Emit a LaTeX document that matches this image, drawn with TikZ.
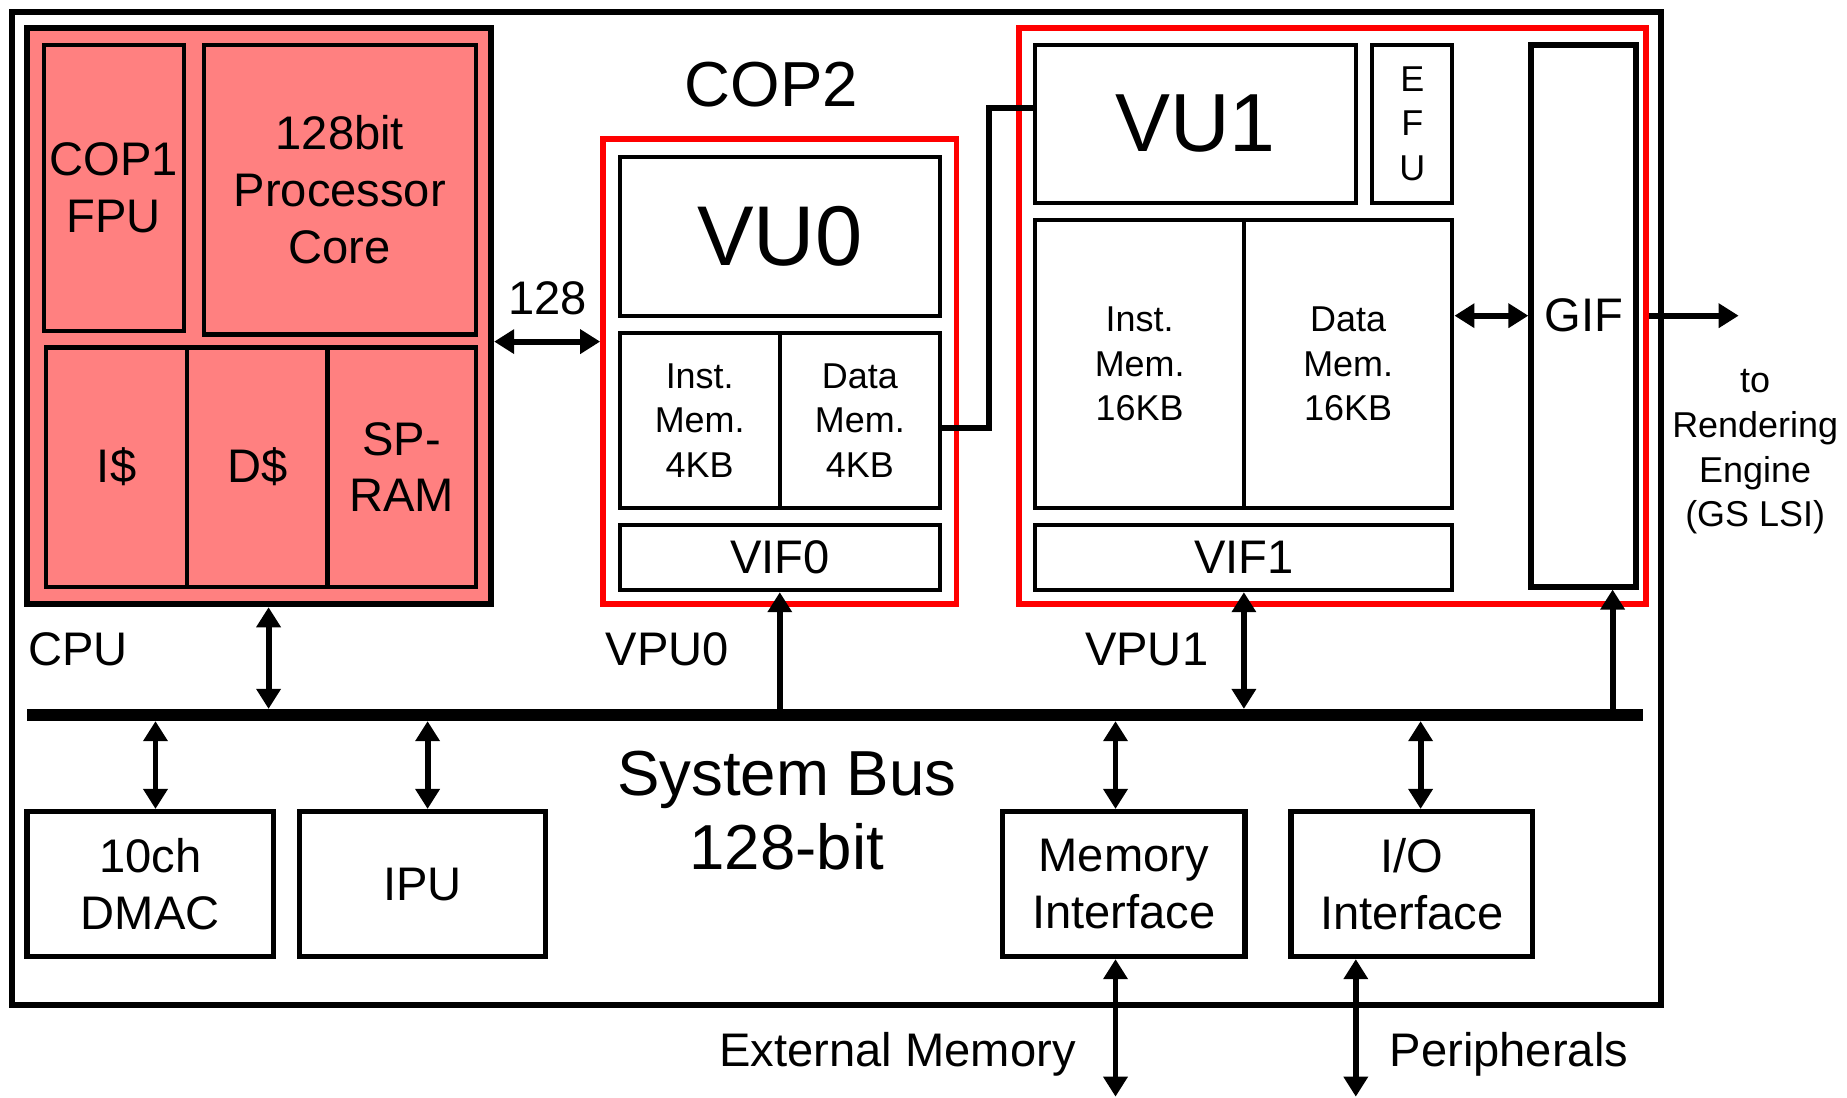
\documentclass[tikz,border=0pt]{standalone}
\usepackage{fontspec}
\setmainfont{Liberation Sans}
\usetikzlibrary{arrows.meta,calc}
\definecolor{cpured}{RGB}{255,128,128}
\definecolor{vpured}{RGB}{255,0,0}
\begin{document}
\begin{tikzpicture}[x=1pt,y=-1pt,
  >={Triangle[length=17pt,width=20pt]},
  box/.style={draw, line width=3.5pt, inner sep=0pt, align=center, font=\fontsize{40}{48}\selectfont},
  small/.style={font=\fontsize{30.5}{38}\selectfont},
  redbox/.style={draw=vpured, line width=5pt, inner sep=0pt},
  lbl/.style={inner sep=0pt, align=center, font=\fontsize{40}{48}\selectfont},
  arr/.style={line width=5pt},
  wire/.style={line width=5pt, line join=miter}]
\useasboundingbox (0,0) rectangle (1568,932);

% outer frame
\node[draw, line width=5pt, inner sep=0pt, minimum width=1400pt, minimum height=843pt] (chip) at (710,431.5) {};

% CPU
\node[draw, fill=cpured, line width=5pt, inner sep=0pt, minimum width=394pt, minimum height=489pt] (cpu) at (220,268.5) {};
\node[box, minimum width=119pt, minimum height=243pt] (fpu) at (96.5,159.5) {COP1\\FPU};
\node[box, minimum width=231pt, minimum height=246pt] (core) at (288.5,161) {128bit\\Processor\\Core};
\node[box, minimum width=120pt, minimum height=203pt] (icache) at (99,396.5) {I\$};
\node[box, minimum width=119pt, minimum height=203pt] (dcache) at (218.5,396.5) {D\$};
\node[box, minimum width=126pt, minimum height=203pt] (spram) at (341,396.5) {SP-\\RAM};

% VPU0
\node[redbox, minimum width=300pt, minimum height=395pt] (vpu0) at (662,315.5) {};
\node[box, minimum width=272pt, minimum height=135pt, font=\fontsize{72}{80}\selectfont] (vu0) at (662,200.5) {VU0};
\node[box, small, minimum width=136pt, minimum height=148pt] (imem0) at (594,357) {Inst.\\Mem.\\4KB};
\node[box, small, minimum width=136pt, minimum height=148pt] (dmem0) at (730,357) {Data\\Mem.\\4KB};
\node[box, minimum width=272pt, minimum height=55pt] (vif0) at (662,473.5) {VIF0};

% VPU1
\node[redbox, minimum width=532pt, minimum height=489pt] (vpu1) at (1131,268.5) {};
\node[box, minimum width=272pt, minimum height=134pt, font=\fontsize{70}{80}\selectfont] (vu1) at (1015,105) {VU1};
\node[box, minimum width=68pt, minimum height=134pt, font=\fontsize{30.5}{37.5}\selectfont] (efu) at (1199,105) {E\\F\\U};
\node[box, small, minimum width=177pt, minimum height=244pt] (imem1) at (967.5,309) {Inst.\\Mem.\\16KB};
\node[box, small, minimum width=177pt, minimum height=244pt] (dmem1) at (1144.5,309) {Data\\Mem.\\16KB};
\node[box, minimum width=354pt, minimum height=55pt] (vif1) at (1056,473.5) {VIF1};
\node[box, line width=5pt, minimum width=89pt, minimum height=460pt] (gif) at (1344.5,268) {GIF};

% bottom boxes
\node[box, line width=4.5pt, minimum width=209pt, minimum height=123pt] (dmac) at (127.5,750.5) {10ch\\DMAC};
\node[box, line width=4.5pt, minimum width=209pt, minimum height=123pt] (ipu) at (358.5,750.5) {IPU};
\node[box, line width=4.5pt, minimum width=206pt, minimum height=123pt] (memif) at (954,750.5) {Memory\\Interface};
\node[box, line width=4.5pt, minimum width=205pt, minimum height=123pt] (ioif) at (1198.5,750.5) {I/O\\Interface};

% system bus
\node[fill, inner sep=0pt, minimum width=1372pt, minimum height=10pt] (bus) at (709,607) {};

% labels
\node[lbl, font=\fontsize{54}{63}\selectfont] (cop2) at (655,72) {COP2};
\node[lbl] (l128) at (465,253) {128};
\node[lbl, anchor=west] (lcpu) at (24,551) {CPU};
\node[lbl, anchor=west] (lvpu0) at (514,551) {VPU0};
\node[lbl, anchor=west] (lvpu1) at (921,551) {VPU1};
\node[lbl, font=\fontsize{54}{63}\selectfont] (lbus) at (668,688) {System Bus\\128-bit};
\node[lbl, small] (lrend) at (1490,383.5) {to\\Rendering\\Engine\\(GS LSI)};
\node[lbl] (lext) at (762,895) {External Memory};
\node[lbl] (lper) at (1281,895) {Peripherals};

\coordinate (extend) at (947,931);
\coordinate (rend) at (1476,268);

% connectors
\draw[arr,<->] (cpu.east |- 0,290) -- (vpu0.west |- 0,290);
\draw[wire] ([yshift=-6pt]dmem0.east) -- ++(40,0) |- ([yshift=13pt]vu1.west);
\draw[arr,<->] (dmem1.east |- gif.west) -- (gif.west);
\draw[arr,->] (vpu1.east |- gif.east) -- (rend);

\draw[arr,<->] ([xshift=8pt]cpu.south) -- ([xshift=8pt]cpu.south |- bus.north);
\draw[arr,->] (vif0.south |- bus.north) -- (vif0.south);
\draw[arr,<->] (vif1.south) -- (vif1.south |- bus.north);
\draw[arr,->] ([xshift=24.5pt]gif.south |- bus.north) -- ([xshift=24.5pt]gif.south);

\draw[arr,<->] ([xshift=4.5pt]dmac.north |- bus.south) -- ([xshift=4.5pt]dmac.north);
\draw[arr,<->] ([xshift=4.5pt]ipu.north |- bus.south) -- ([xshift=4.5pt]ipu.north);
\draw[arr,<->] ([xshift=-7pt]memif.north |- bus.south) -- ([xshift=-7pt]memif.north);
\draw[arr,<->] ([xshift=7.5pt]ioif.north |- bus.south) -- ([xshift=7.5pt]ioif.north);

\draw[arr,<->] ([xshift=-7pt]memif.south) -- ([xshift=-7pt]memif.south |- extend);
\draw[arr,<->] ([xshift=-47.5pt]ioif.south) -- ([xshift=-47.5pt]ioif.south |- extend);
\end{tikzpicture}
\end{document}
